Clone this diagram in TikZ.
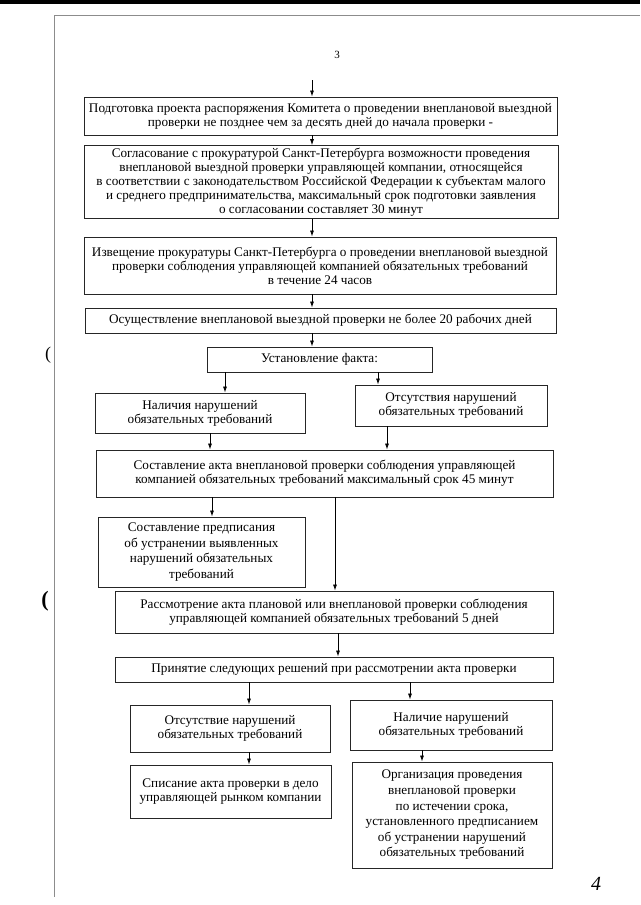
\documentclass[tikz,border=0pt]{standalone}
\usepackage{fontspec}
\setmainfont{Liberation Serif}
\usetikzlibrary{arrows.meta,positioning,calc}
\tikzset{
  stagebox/.style={draw=black!85,line width=0.9pt,align=center,inner sep=2pt,
    font=\fontsize{13.2}{14.1}\selectfont},
  widebox/.style={stagebox,font=\fontsize{13.2}{15.6}\selectfont},
  flowarrow/.style={-{Latex[length=6pt,width=4pt]},line width=0.8pt},
  scanline/.style={black!45,line width=0.8pt}
}

\begin{document}
\begin{tikzpicture}[x=1pt,y=-1pt]
  \useasboundingbox (0,0) rectangle (640,905);
  % edges of the scanned sheet
  \fill[black] (0,0) rectangle (640,4);
  \draw[scanline] (54,15)--(640,15);
  \draw[scanline] (54,15)--(54,897);
  \node[font=\fontsize{11}{12}\selectfont] (pagenum) at (337,55) {3};
  \node[font=\fontsize{18}{18}\selectfont] (markA) at (48,355) {(};
  \node[font=\fontsize{22}{22}\selectfont\bfseries] (markB) at (45,601) {(};
  \node[font=\fontsize{20}{20}\selectfont\itshape] (pagemark) at (596,884) {4};

  % main column
  \node[stagebox,minimum width=473pt,minimum height=38pt] (prep) at (320.5,116)
    {Подготовка проекта распоряжения Комитета о проведении внеплановой выездной\\
     проверки не позднее чем за десять дней до начала проверки -};
  \node[stagebox,minimum width=474pt,minimum height=70pt] (agree) at (321,182)
    {Согласование с прокуратурой Санкт-Петербурга возможности проведения\\
     внеплановой выездной проверки управляющей компании, относящейся\\
     в соответствии с законодательством Российской Федерации к субъектам малого\\
     и среднего предпринимательства, максимальный срок подготовки заявления\\
     о согласовании составляет 30 минут};
  \node[stagebox,minimum width=472pt,minimum height=57pt] (notice) at (320,265.5)
    {Извещение прокуратуры Санкт-Петербурга о проведении внеплановой выездной\\
     проверки соблюдения управляющей компанией обязательных требований\\
     в течение 24 часов};
  \node[stagebox,minimum width=471pt,minimum height=25pt] (inspect) at (320.5,320.5)
    {Осуществление внеплановой выездной проверки не более 20 рабочих дней};
  \node[stagebox,minimum width=225pt,minimum height=25pt] (facts) at (319.5,359.5)
    {Установление факта:};

  % outcome of the inspection
  \node[stagebox,minimum width=210pt,minimum height=40pt] (found) at (200,413)
    {Наличия нарушений\\ обязательных требований};
  \node[stagebox,minimum width=192pt,minimum height=41pt] (clean) at (451,405.5)
    {Отсутствия нарушений\\ обязательных требований};
  \node[stagebox,minimum width=457pt,minimum height=47pt] (act) at (324.5,473.5)
    {Составление акта внеплановой проверки соблюдения управляющей\\
     компанией обязательных требований максимальный срок 45 минут};
  \node[widebox,minimum width=207pt,minimum height=70pt] (order) at (201.5,552)
    {Составление предписания\\ об устранении выявленных\\
     нарушений обязательных\\ требований};
  \node[stagebox,minimum width=438pt,minimum height=42pt] (review) at (334,612)
    {Рассмотрение акта плановой или внеплановой проверки соблюдения\\
     управляющей компанией обязательных требований 5 дней};
  \node[stagebox,minimum width=438pt,minimum height=25pt] (decide) at (334,669.5)
    {Принятие следующих решений при рассмотрении акта проверки};

  % decisions
  \node[stagebox,minimum width=200pt,minimum height=47pt] (noviol) at (230,728.5)
    {Отсутствие нарушений\\ обязательных требований};
  \node[stagebox,minimum width=202pt,minimum height=50pt] (viol) at (451,725)
    {Наличие нарушений\\ обязательных требований};
  \node[stagebox,minimum width=201pt,minimum height=53pt] (archive) at (230.5,791.5)
    {Списание акта проверки в дело\\ управляющей рынком компании};
  \node[widebox,minimum width=200pt,minimum height=106pt] (recheck) at (452,815)
    {Организация проведения\\ внеплановой проверки\\ по истечении срока,\\
     установленного предписанием\\ об устранении нарушений\\
     обязательных требований};

  % columns of the connectors
  \coordinate (start) at (312,80);
  \coordinate (xfound) at (225,0);
  \coordinate (xclean) at (378,0);
  \coordinate (xfoundout) at (210,0);
  \coordinate (xcleanout) at (387,0);
  \coordinate (xorder) at (212,0);
  \coordinate (xreview) at (335,0);
  \coordinate (xdecide) at (338,0);
  \coordinate (xnoviol) at (249,0);
  \coordinate (xviol) at (410,0);
  \coordinate (xrecheck) at (422,0);

  \draw[flowarrow] (start) -- (prep.north -| start);
  \draw[flowarrow] (prep.south -| start) -- (agree.north -| start);
  \draw[flowarrow] (agree.south -| start) -- (notice.north -| start);
  \draw[flowarrow] (notice.south -| start) -- (inspect.north -| start);
  \draw[flowarrow] (inspect.south -| start) -- (facts.north -| start);
  \draw[flowarrow] (facts.south -| xfound) -- (found.north -| xfound);
  \draw[flowarrow] (facts.south -| xclean) -- (clean.north -| xclean);
  \draw[flowarrow] (found.south -| xfoundout) -- (act.north -| xfoundout);
  \draw[flowarrow] (clean.south -| xcleanout) -- (act.north -| xcleanout);
  \draw[flowarrow] (act.south -| xorder) -- (order.north -| xorder);
  \draw[flowarrow] (act.south -| xreview) -- (review.north -| xreview);
  \draw[flowarrow] (review.south -| xdecide) -- (decide.north -| xdecide);
  \draw[flowarrow] (decide.south -| xnoviol) -- (noviol.north -| xnoviol);
  \draw[flowarrow] (decide.south -| xviol) -- (viol.north -| xviol);
  \draw[flowarrow] (noviol.south -| xnoviol) -- (archive.north -| xnoviol);
  \draw[flowarrow] (viol.south -| xrecheck) -- (recheck.north -| xrecheck);
\end{tikzpicture}
\end{document}
